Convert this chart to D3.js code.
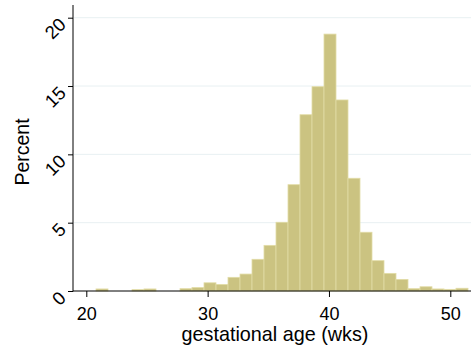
<!DOCTYPE html>
<html>
<head>
<meta charset="utf-8">
<script src="https://cdn.jsdelivr.net/npm/d3@7"></script>
<style>
  html, body { margin: 0; padding: 0; background: #fff; }
  svg { display: block; }
  text { font-family: "Liberation Sans", Arial, sans-serif; fill: #000; }
</style>
</head>
<body>
<svg id="chart" width="474" height="354"></svg>
<script>
// ---- data ----
const binStart = 20.80;      // weeks, left edge of first bin
const binWidth = 0.989;      // weeks per bin
const percents = [
  0.15, 0, 0, 0.10, 0.15, 0, 0, 0.17, 0.25, 0.60,
  0.48, 1.00, 1.24, 2.32, 3.34, 5.03, 7.78, 12.9, 14.95, 18.8,
  13.98, 8.25, 4.30, 2.22, 1.29, 0.85, 0.17, 0.31, 0.15, 0.12,
  0.20
];
const xTicks = [20, 30, 40, 50];
const yTicks = [0, 5, 10, 15, 20];
const xTitle = "gestational age (wks)";
const yTitle = "Percent";

const bins = percents.map((p, i) => ({
  x0: binStart + i * binWidth,
  x1: binStart + (i + 1) * binWidth,
  value: p
}));

// ---- layout ----
const W = 474, H = 354;
const mLeft = 73, mRight = 471, mTop = 5, mBottom = 291;

const x = d3.scaleLinear().domain([20, 50]).range([86.3, 450.3]);
const y = d3.scaleLinear().domain([0, 20]).range([mBottom, 17.7]);

const svg = d3.select("#chart");
svg.append("rect").attr("width", W).attr("height", H).attr("fill", "#fff");

// gridlines
svg.append("g").selectAll("line")
  .data(yTicks.filter(d => d > 0))
  .join("line")
  .attr("x1", mLeft + 1).attr("x2", mRight)
  .attr("y1", d => y(d)).attr("y2", d => y(d))
  .attr("stroke", "#e8f0f2").attr("stroke-width", 1);

// bars
svg.append("g").selectAll("rect")
  .data(bins.filter(b => b.value > 0))
  .join("rect")
  .attr("x", d => x(d.x0))
  .attr("width", d => x(d.x1) - x(d.x0))
  .attr("y", d => y(d.value))
  .attr("height", d => y(0) - y(d.value))
  .attr("fill", "#cbc381")
  .attr("stroke", "#e2dca6")
  .attr("stroke-width", 0.8);

// y axis
const yAxis = d3.axisLeft(y).tickValues(yTicks).tickSize(5).tickFormat(d3.format("d"));
const gy = svg.append("g").attr("transform", `translate(${mLeft},0)`).call(yAxis);
gy.select(".domain").remove();
gy.selectAll(".tick line").attr("stroke", "#000");
gy.selectAll(".tick text")
  .attr("font-size", 18.5)
  .attr("x", 0).attr("dy", null)
  .attr("text-anchor", "end")
  .attr("dominant-baseline", "central")
  .attr("transform", "translate(-10.5,3) rotate(-45)");
svg.append("line")
  .attr("x1", mLeft).attr("x2", mLeft)
  .attr("y1", mTop).attr("y2", mBottom + 0.5)
  .attr("stroke", "#000").attr("stroke-width", 1);

// x axis
const xAxis = d3.axisBottom(x).tickValues(xTicks).tickSize(6).tickPadding(4).tickFormat(d3.format("d"));
const gx = svg.append("g").attr("transform", `translate(0,${mBottom})`).call(xAxis);
gx.select(".domain").remove();
gx.selectAll(".tick line").attr("stroke", "#000");
gx.selectAll(".tick text").attr("font-size", 18).attr("y", 0).attr("dy", null)
  .attr("transform", "translate(0,28.5)");
svg.append("line")
  .attr("x1", mLeft).attr("x2", mRight)
  .attr("y1", mBottom).attr("y2", mBottom)
  .attr("stroke", "#000").attr("stroke-width", 1);

// titles
svg.append("text")
  .attr("x", 275).attr("y", 341)
  .attr("text-anchor", "middle").attr("font-size", 19.8)
  .text(xTitle);
svg.append("text")
  .attr("transform", `translate(29,152) rotate(-90)`)
  .attr("text-anchor", "middle").attr("font-size", 19.5)
  .text(yTitle);
</script>
</body>
</html>
